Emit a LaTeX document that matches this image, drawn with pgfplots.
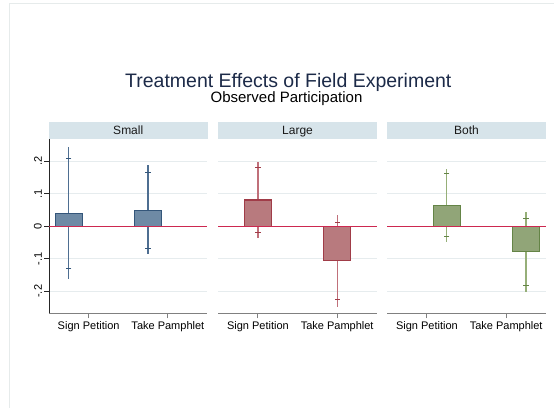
\documentclass[border=0pt]{standalone}
\usepackage{pgfplots}
\usepackage{pgfplotstable}
\usepackage{fontspec}
\setmainfont{Liberation Sans}
\pgfplotsset{compat=1.18}

\definecolor{titlecol}{RGB}{28,42,72}
\definecolor{stripcol}{RGB}{215,228,234}
\definecolor{gridcol}{RGB}{230,236,238}
\definecolor{zerocol}{RGB}{205,40,80}
\definecolor{axiscol}{RGB}{128,128,128}
\definecolor{framecol}{RGB}{230,235,235}
% navy / maroon / forest green families
\definecolor{navyfill}{RGB}{110,138,165}
\definecolor{navyedge}{RGB}{52,86,122}
\definecolor{navywhisk}{RGB}{78,110,145}
\definecolor{maroonfill}{RGB}{184,122,126}
\definecolor{maroonedge}{RGB}{160,60,72}
\definecolor{maroonwhisk}{RGB}{192,112,122}
\definecolor{greenfill}{RGB}{145,165,120}
\definecolor{greenedge}{RGB}{100,132,70}
\definecolor{greenwhisk}{RGB}{150,175,120}

% point estimates with 95% and 90% confidence bounds
\pgfplotstableread{
x    est     lo95    hi95   lo90    hi90
0.5  0.039  -0.163   0.243 -0.131   0.209
2.5  0.050  -0.086   0.188 -0.067   0.167
}\tabSmall
\pgfplotstableread{
x    est     lo95    hi95   lo90    hi90
1.0  0.081  -0.037   0.199 -0.018   0.181
3.0 -0.105  -0.247   0.034 -0.225   0.012
}\tabLarge
\pgfplotstableread{
x    est     lo95    hi95   lo90    hi90
1.5  0.065  -0.049   0.175 -0.031   0.162
3.5 -0.077  -0.201   0.043 -0.181   0.025
}\tabBoth

\pgfplotsset{
  panel/.style={
    scale only axis, width=158.5pt, height=174.3pt, anchor=south west,
    xmin=0, xmax=4, ymin=-0.2677, ymax=0.2686,
    axis x line*=bottom, axis y line*=left, axis line style={-},
    x axis line style={draw=axiscol, line width=1.3pt},
    y axis line style={draw=black!85, line width=0.9pt},
    tick align=outside, major tick length=5pt,
    xtick={1,3}, xticklabels={Sign Petition, Take Pamphlet},
    x tick style={draw=axiscol, line width=1pt},
    y tick style={draw=black!85, line width=0.9pt},
    ytick={-0.2,-0.1,0,0.1,0.2},
    yticklabels={-.2,-.1,0,.1,.2},
    ymajorgrids, grid style={draw=gridcol, line width=0.9pt},
    tick label style={font=\fontsize{11}{13}\selectfont, text=black},
    yticklabel style={rotate=90, anchor=south, inner sep=2pt},
    xticklabel style={inner sep=3pt},
    clip=false,
  },
  inner/.style={
    y axis line style={draw=none},
    y tick style={draw=none},
    yticklabels={},
  },
  % 95% interval, drawn outside the bar only
  whisk95/.style 2 args={draw=none, mark=none, forget plot,
    /pgfplots/error bars/y dir=#2,
    /pgfplots/error bars/y explicit,
    /pgfplots/error bars/error mark=none,
    /pgfplots/error bars/error bar style={draw=#1, line width=1.2pt, solid}},
  % 90% bounds: short horizontal ticks
  tick90/.style={only marks, mark=-, mark size=2.6pt, forget plot,
    mark options={draw=#1, line width=1pt}},
  est/.style 2 args={ybar, bar width=0.685, bar shift=0pt, mark=none,
    fill=#1, draw=#2, line width=1.1pt, forget plot},
  zero/.style={draw=zerocol, line width=1.2pt, mark=none, forget plot},
}

\newcommand{\panelplots}[5]{%
  \addplot[whisk95={#3}{plus}] table[x=x, y expr={max(\thisrow{est},0)},
    y error plus expr={\thisrow{hi95}-max(\thisrow{est},0)}] {#1};
  \addplot[whisk95={#3}{minus}] table[x=x, y expr={min(\thisrow{est},0)},
    y error minus expr={min(\thisrow{est},0)-\thisrow{lo95}}] {#1};
  \addplot[tick90=#4] table[x=x, y=hi90] {#1};
  \addplot[tick90=#4] table[x=x, y=lo90] {#1};
  \addplot[est={#2}{#5}] table[x=x, y=est] {#1};
  \addplot[zero] coordinates {(0,0) (4,0)};
}

\begin{document}
\begin{tikzpicture}[x=1pt, y=1pt]
\path[use as bounding box] (0,0) rectangle (554,408);
\draw[framecol, line width=1pt] (9.5,0) -- (9.5,404.5) -- (554,404.5);

% titles
\node[anchor=base, font=\fontsize{19.5}{22}\selectfont, text=titlecol, inner sep=0pt]
  at (288.3,321) {Treatment Effects of Field Experiment};
\node[anchor=base, font=\fontsize{15}{17}\selectfont, text=black, inner sep=0pt]
  at (286.5,305.6) {Observed Participation};

% strip headers
\foreach \px/\lab in {49/Small, 218.3/Large, 387.3/Both}{
  \fill[stripcol] (\px,269) rectangle ({\px+158.5},285.7);
  \node[anchor=base, font=\fontsize{12}{14}\selectfont, text=black!90, inner sep=0pt]
    at ({\px+79.25},274) {\lab};
}

\begin{axis}[panel, at={(49pt,94.7pt)}]
  \panelplots{\tabSmall}{navyfill}{navywhisk}{navyedge}{navyedge}
\end{axis}

\begin{axis}[panel, inner, at={(218.3pt,94.7pt)}]
  \panelplots{\tabLarge}{maroonfill}{maroonwhisk}{maroonedge}{maroonedge}
\end{axis}

\begin{axis}[panel, inner, at={(387.3pt,94.7pt)}]
  \panelplots{\tabBoth}{greenfill}{greenwhisk}{greenedge}{greenedge}
\end{axis}
\end{tikzpicture}
\end{document}
